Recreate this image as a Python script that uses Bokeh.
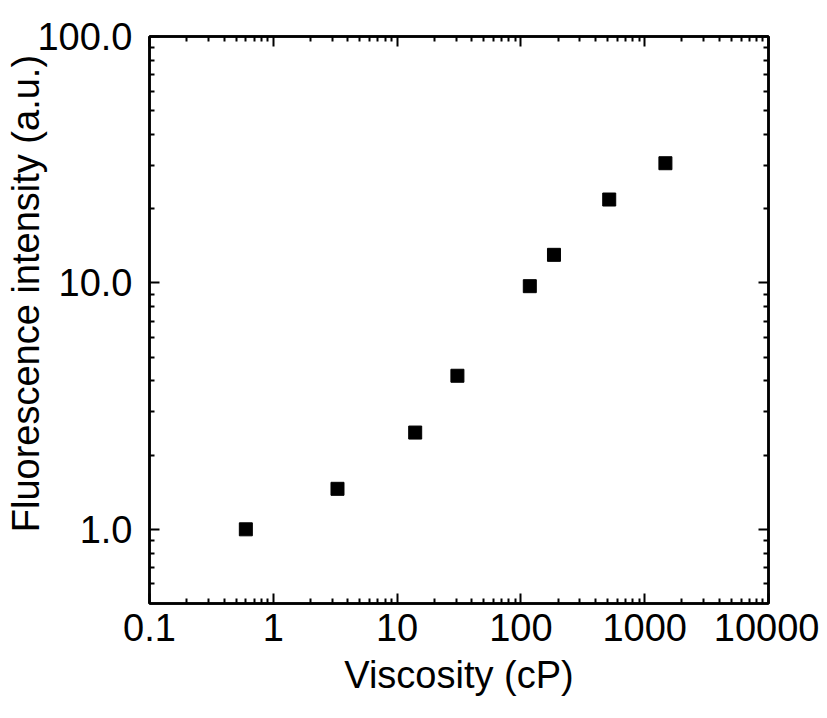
from bokeh.plotting import figure
from bokeh.models import (LogAxis, FixedTicker, CustomJSTickFormatter,
                          ColumnDataSource, Range1d)
from bokeh.embed import file_html
from bokeh.resources import INLINE

# ---- data ----
viscosity = [0.6, 3.3, 14.0, 30.7, 118.0, 185.0, 517.0, 1470.0]
intensity = [1.0, 1.46, 2.47, 4.2, 9.7, 13.0, 21.8, 30.6]

x_ticks = [0.1, 1, 10, 100, 1000, 10000]
x_tick_labels = ["0.1", "1", "10", "100", "1000", "10000"]
y_ticks = [1, 10, 100]
y_tick_labels = ["1.0", "10.0", "100.0"]

x_title = "Viscosity (cP)"
y_title = "Fluorescence intensity (a.u.)"

FONT = "Liberation Sans"
FS = "38px"

x_minor = [m * 10.0 ** e for e in range(-1, 4) for m in range(2, 10)]
y_minor = [0.6, 0.7, 0.8, 0.9] + [m * 10.0 ** e for e in range(0, 2) for m in range(2, 10)]

p = figure(x_axis_type="log", y_axis_type="log",
           frame_width=619, frame_height=567,
           min_border_left=149, min_border_top=36,
           min_border_right=51, min_border_bottom=100,
           x_range=Range1d(0.09999, 10001), y_range=Range1d(0.5, 100.01),
           output_backend="svg", toolbar_location=None,
           background_fill_color="white", border_fill_color="white")

p.grid.visible = False
p.outline_line_color = "black"
p.outline_line_width = 2.5

src = ColumnDataSource(dict(x=viscosity, y=intensity))
p.scatter("x", "y", source=src, marker="square", size=13,
          fill_color="black", line_color="black")

fmt_code = """
for (let i = 0; i < vals.length; i++) {
  if (Math.abs(Math.log10(vals[i]) - Math.log10(tick)) < 1e-6) return labs[i];
}
return "";
"""
xfmt = CustomJSTickFormatter(args=dict(vals=x_ticks, labs=x_tick_labels), code=fmt_code)
yfmt = CustomJSTickFormatter(args=dict(vals=y_ticks, labs=y_tick_labels), code=fmt_code)
blank = CustomJSTickFormatter(code='return "";')


def style(ax, ticks, minor, fmt):
    ax.ticker = FixedTicker(ticks=ticks, minor_ticks=minor)
    ax.formatter = fmt
    ax.axis_line_width = 2.5
    ax.axis_line_color = "black"
    ax.major_tick_in = 10
    ax.major_tick_out = 0
    ax.minor_tick_in = 5
    ax.minor_tick_out = 0
    ax.major_tick_line_width = 2
    ax.minor_tick_line_width = 2
    ax.major_tick_line_color = "black"
    ax.minor_tick_line_color = "black"
    ax.major_label_text_font = FONT
    ax.major_label_text_color = "black"
    ax.major_label_text_font_size = FS
    ax.axis_label_text_font = FONT
    ax.axis_label_text_font_size = FS
    ax.axis_label_text_font_style = "normal"
    ax.axis_label_text_color = "black"


xa = p.xaxis[0]
style(xa, x_ticks, x_minor, xfmt)
xa.major_label_standoff = 10
xa.axis_label = x_title
xa.axis_label_standoff = 10

ya = p.yaxis[0]
style(ya, y_ticks, y_minor, yfmt)
ya.major_label_standoff = 17
# leading no-break spaces shift the centred title upward, as in the reference
ya.axis_label = "\u00a0" * 5 + y_title
ya.axis_label_standoff = -13

top = LogAxis()
style(top, x_ticks, x_minor, blank)
top.major_label_standoff = 0
p.add_layout(top, "above")
right = LogAxis()
style(right, y_ticks, y_minor, blank)
right.major_label_standoff = 0
p.add_layout(right, "right")

open("out.html", "w").write(file_html(p, INLINE))
